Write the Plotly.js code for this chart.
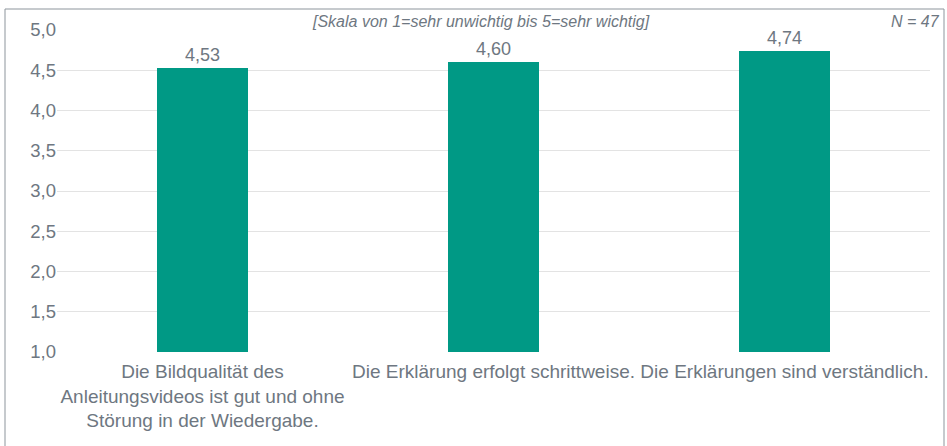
<!DOCTYPE html>
<html><head><meta charset="utf-8">
<script src="https://cdn.plot.ly/plotly-3.0.1.min.js"></script>
<style>body{margin:0;background:#fff}#chart{width:947px;height:446px}</style>
</head><body><div id="chart"></div>
<script>
const categories = [
  "Die Bildqualität des<br>Anleitungsvideos ist gut und ohne<br>Störung in der Wiedergabe.",
  "Die Erklärung erfolgt schrittweise.",
  "Die Erklärungen sind verständlich."
];
const values = [4.53, 4.60, 4.74];
const scaleNote = "[Skala von 1=sehr unwichtig bis 5=sehr wichtig]";
const nNote = "N = 47";

const textColor = "#6e7781";
const L = 57, R = 930, T = 30, B = 352, W = 947, H = 446;
const pw = R - L, ph = B - T;
const px = v => (v - L) / pw;
const py = v => (B - v) / ph;

const trace = {
  type: "bar",
  x: categories,
  y: values,
  marker: {color: "#009985"},
  width: 0.313,
  texttemplate: "%{y:.2f}",
  textposition: "outside",
  textfont: {size: 18, color: textColor},
  cliponaxis: false,
  hoverinfo: "none"
};

const layout = {
  width: W, height: H,
  margin: {l: L, r: W - R, t: T, b: H - B},
  separators: ",.",
  font: {family: "Liberation Sans, Arial, sans-serif", color: textColor, size: 18},
  paper_bgcolor: "#fff", plot_bgcolor: "#fff",
  showlegend: false,
  bargap: 0,
  xaxis: {
    showgrid: false, zeroline: false, showline: false, ticks: "",
    tickfont: {size: 19, color: textColor}, tickangle: 0, automargin: false,
    ticklabelstandoff: 6
  },
  yaxis: {
    range: [1, 5], dtick: 0.5, tick0: 1, tickformat: ".1f",
    showgrid: true, gridcolor: "#e3e3e3", gridwidth: 1,
    zeroline: false, showline: false, ticks: "", ticklen: 0,
    tickfont: {size: 18.5, color: textColor}, automargin: false
  },
  shapes: [
    {type: "rect", xref: "paper", yref: "paper",
     x0: px(5), x1: px(944), y0: py(470), y1: py(9),
     line: {color: "#8d959c", width: 1}, fillcolor: "rgba(0,0,0,0)", layer: "below"}
  ],
  annotations: [
    {text: scaleNote, xref: "paper", yref: "paper", x: px(481), y: py(21),
     xanchor: "center", yanchor: "middle", showarrow: false,
     font: {size: 16, color: textColor, style: "italic"}},
    {text: nNote, xref: "paper", yref: "paper", x: px(942), y: py(21),
     xanchor: "right", yanchor: "middle", showarrow: false,
     font: {size: 16, color: textColor, style: "italic"}}
  ]
};

Plotly.newPlot("chart", [trace], layout, {displayModeBar: false, staticPlot: true});
</script></body></html>
